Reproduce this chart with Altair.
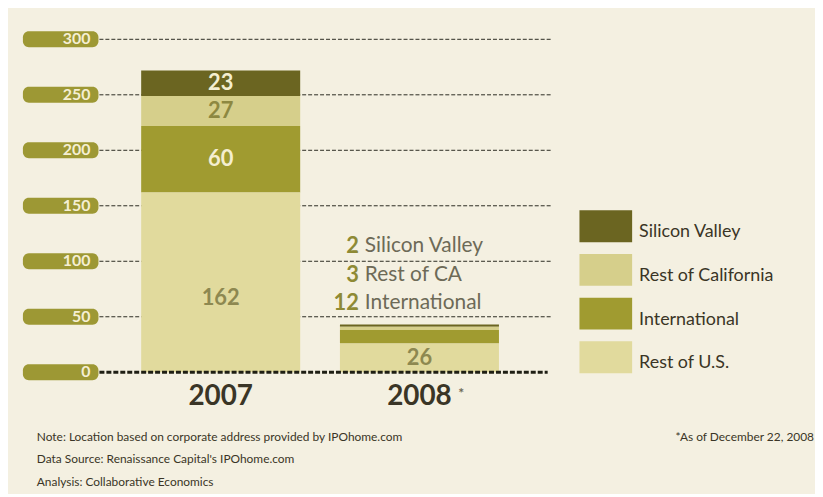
import altair as alt
import pandas as pd

# ---------------- data ----------------
years = ["2007", "2008"]
series = ["Silicon Valley", "Rest of California", "International", "Rest of U.S."]
short_names = ["Silicon Valley", "Rest of CA", "International", "Rest of U.S."]
values_2007 = [23, 27, 60, 162]
values_2008 = [2, 3, 12, 26]
y_ticks = [0, 50, 100, 150, 200, 250, 300]
notes = [
    "Note: Location based on corporate address provided by IPOhome.com",
    "Data Source: Renaissance Capital's IPOhome.com",
    "Analysis: Collaborative Economics",
]
footnote = "*As of December 22, 2008"

# ---------------- styles ----------------
FONT = "Lato"
NOTE_FONT = "Lato"
series_colors = ["#6b6521", "#d6cf8b", "#a09b30", "#e1da9d"]
label_colors = {
    "Silicon Valley": "#f4eed0",
    "Rest of California": "#8d8841",
    "International": "#f4eed0",
    "Rest of U.S.": "#8d8850",
}
BG = "#f4f0e1"
DARK = "#3a3526"
W, H = 455, 335

rows = []
for year, vals in zip(years, [values_2007, values_2008]):
    for i, (s, short, v) in enumerate(zip(series, short_names, vals)):
        rows.append({"year": year, "series": s, "short": short, "value": v,
                     "rank": len(series) - 1 - i, "lab_color": label_colors[s]})
df = pd.DataFrame(rows)
tick_df = pd.DataFrame({"v": y_ticks})

xscale = alt.Scale(domain=years, range=[-8, 452], paddingInner=0.2, paddingOuter=0.25)
yscale = alt.Scale(domain=[0, 300], nice=False)
xaxis = alt.Axis(title=None, domain=False, ticks=False, labelAngle=0, labelFont=FONT,
                 labelFontSize=28, labelFontWeight="bold", labelColor=DARK, labelPadding=10)
color_scale = alt.Scale(domain=series, range=series_colors)


def xenc(band=0.5):
    return alt.X("year:N", scale=xscale, sort=years, axis=xaxis, bandPosition=band)


grid = alt.Chart(tick_df).transform_filter("datum.v > 0").mark_rule(
    color="#2b2b22", strokeDash=[4, 2], strokeWidth=1
).encode(y=alt.Y("v:Q", scale=yscale, axis=None), x=alt.value(0), x2=alt.value(W))

bars = alt.Chart(df).mark_bar().encode(
    x=xenc(),
    y=alt.Y("value:Q", stack="zero", scale=yscale, axis=None),
    color=alt.Color("series:N", scale=color_scale, legend=None),
    order=alt.Order("rank:Q", sort="ascending"),
)

stacked = alt.Chart(df).transform_stack(
    stack="value", groupby=["year"], as_=["y0", "y1"],
    sort=[alt.SortField("rank", order="ascending")],
)
bar_labels = stacked.transform_filter("datum.value >= 20").transform_calculate(
    mid="datum.y0 + (datum.y1 - datum.y0) * (datum.value > 100 ? 0.41 : 0.5)"
).mark_text(font=FONT, fontWeight="bold", fontSize=22, baseline="middle").encode(
    x=xenc(), y=alt.Y("mid:Q", scale=yscale, axis=None), text="value:Q",
    fill=alt.Fill("lab_color:N", scale=None),
)

ann = alt.Chart(df).transform_filter(
    "datum.year == '2008' && datum.value < 20"
).transform_calculate(ay="62 + 26 * (datum.rank - 1)")
ann_num = ann.mark_text(font=FONT, fontWeight="bold", fontSize=22, align="right",
                        baseline="middle", color="#8e8a35", dx=19).encode(
    x=xenc(0), y=alt.Y("ay:Q", scale=yscale, axis=None), text="value:Q")
ann_txt = ann.mark_text(font=FONT, fontSize=21, align="left", baseline="middle",
                        color="#6d6a57", dx=25).encode(
    x=xenc(0), y=alt.Y("ay:Q", scale=yscale, axis=None), text="short:N")

zero_rule = alt.Chart(tick_df).transform_filter("datum.v == 0").mark_rule(
    color="#1f1f14", strokeWidth=3, strokeDash=[5, 2]
).encode(y=alt.Y("v:Q", scale=yscale, axis=None), x=alt.value(0), x2=alt.value(W - 4))

badges = alt.Chart(tick_df).transform_calculate(
    lo="datum.v - 7.2", hi="datum.v + 7.2"
).mark_rect(color="#9d9834", cornerRadius=6).encode(
    y=alt.Y("lo:Q", scale=yscale, axis=None), y2="hi:Q",
    x=alt.value(-77), x2=alt.value(-1))
badge_text = alt.Chart(tick_df).mark_text(
    font=FONT, fontWeight="bold", fontSize=16, align="right", baseline="middle",
    color="#f5efd3").encode(
    y=alt.Y("v:Q", scale=yscale, axis=None), x=alt.value(-9), text="v:Q")

star = alt.Chart(pd.DataFrame({"year": ["2008"]})).mark_text(
    text="*", font=FONT, fontSize=14, fontWeight="bold", color="#6d6a57", dx=42
).encode(x=xenc(), y=alt.value(357))

footer = alt.Chart(alt.Data(values=[{}])).mark_text(
    text=notes, lineHeight=22.5, align="left", baseline="middle",
    font=NOTE_FONT, fontSize=12, color=DARK
).encode(x=alt.value(-63), y=alt.value(400))
foot_right = alt.Chart(alt.Data(values=[{}])).mark_text(
    text=footnote, align="right", baseline="middle",
    font=NOTE_FONT, fontSize=12, color=DARK
).encode(x=alt.value(719), y=alt.value(400))

main = alt.layer(grid, bars, bar_labels, ann_num, ann_txt, zero_rule,
                 badges, badge_text, star, footer, foot_right)

leg_df = pd.DataFrame({"series": series})
leg_y = alt.Y("series:N", sort=series, axis=None,
              scale=alt.Scale(domain=series, range=[172, 336], paddingInner=0.27, paddingOuter=0))
leg_rect = alt.Chart(leg_df).mark_rect().encode(
    y=leg_y, x=alt.value(483), x2=alt.value(536),
    color=alt.Color("series:N", scale=color_scale, legend=None))
leg_txt = alt.Chart(leg_df).mark_text(
    align="left", baseline="middle", dy=6, font=FONT, fontSize=18, color=DARK
).encode(y=leg_y, x=alt.value(543), text="series:N")
legend = alt.layer(leg_rect, leg_txt)

chart = alt.layer(main, legend).resolve_scale(y="independent").properties(
    width=W, height=H,
    padding={"left": 92, "top": 30, "right": 265, "bottom": 121},
    autosize=alt.AutoSizeParams(type="none"),
    background=BG,
).configure_view(stroke=None)

chart.save("out.html", embed_options={"renderer": "svg", "actions": False})
